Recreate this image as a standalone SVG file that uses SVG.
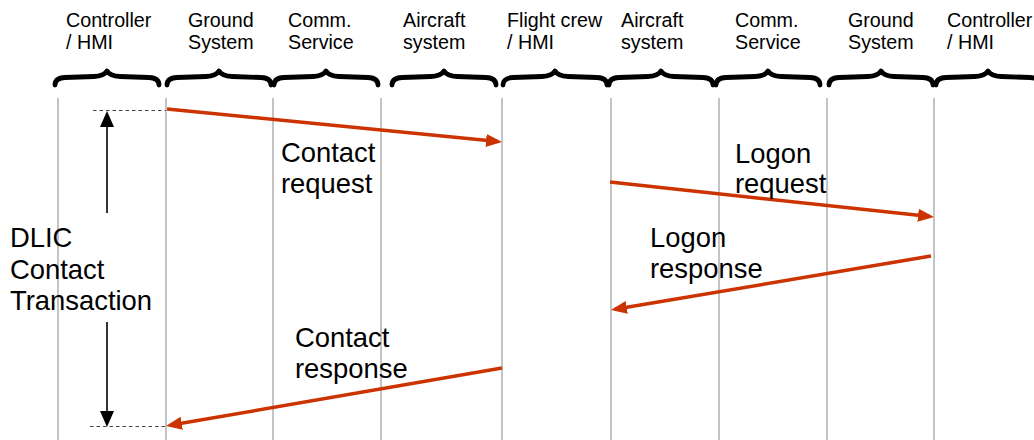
<svg xmlns="http://www.w3.org/2000/svg" width="1034" height="440" viewBox="0 0 1034 440">
<style>
.hdr{font-family:"Liberation Sans",Arial,sans-serif;font-size:19.7px;fill:#000}
.lbl{font-family:"Liberation Sans",Arial,sans-serif;font-size:27.4px;fill:#000}
.life{stroke:#c4c4c4;stroke-width:2}
.brace{fill:none;stroke:#000;stroke-width:4.8;stroke-linejoin:round;stroke-linecap:round}
.msg{stroke:#cc3300;stroke-width:3.5;fill:none}
.dash{stroke:#444;stroke-width:1.2;stroke-dasharray:3.5,3}
.span{stroke:#000;stroke-width:1.6}
</style>
<defs>
<marker id="red" markerUnits="userSpaceOnUse" markerWidth="18" markerHeight="14" refX="12" refY="7" orient="auto">
<path d="M0,0.5 L16,7 L0,13.5 z" fill="#cc3300"/>
</marker>
<marker id="blk" markerUnits="userSpaceOnUse" markerWidth="16" markerHeight="16" refX="14" refY="7.5" orient="auto">
<path d="M0,0.5 L16,7.5 L0,14.5 z" fill="#000"/>
</marker>
<path id="br" d="M1,85 Q1,78 11,77.5 L40,76.5 Q50,76 53,71 Q56,76 66,76.5 L95,77.5 Q105,78 105,85"/>
</defs>

<g id="lifelines">
<line class="life" x1="58" y1="98" x2="58" y2="440"/>
<line class="life" x1="166" y1="98" x2="166" y2="440"/>
<line class="life" x1="273" y1="98" x2="273" y2="440"/>
<line class="life" x1="381" y1="98" x2="381" y2="440"/>
<line class="life" x1="502" y1="98" x2="502" y2="440"/>
<line class="life" x1="611" y1="98" x2="611" y2="440"/>
<line class="life" x1="719" y1="98" x2="719" y2="440"/>
<line class="life" x1="827" y1="98" x2="827" y2="440"/>
<line class="life" x1="934" y1="98" x2="934" y2="440"/>
</g>

<g id="n1"><text class="hdr" x="66" y="27">Controller</text><text class="hdr" x="66" y="49">/ HMI</text><use href="#br" class="brace" x="54"/></g>
<g id="n2"><text class="hdr" x="188" y="27">Ground</text><text class="hdr" x="188" y="49">System</text><use href="#br" class="brace" x="166"/></g>
<g id="n3"><text class="hdr" x="288" y="27">Comm.</text><text class="hdr" x="288" y="49">Service</text><use href="#br" class="brace" x="273"/></g>
<g id="n4"><text class="hdr" x="403" y="27">Aircraft</text><text class="hdr" x="403" y="49">system</text><use href="#br" class="brace" x="391"/></g>
<g id="n5"><text class="hdr" x="507" y="27">Flight crew</text><text class="hdr" x="507" y="49">/ HMI</text><use href="#br" class="brace" x="502"/></g>
<g id="n6"><text class="hdr" x="621" y="27">Aircraft</text><text class="hdr" x="621" y="49">system</text><use href="#br" class="brace" x="608"/></g>
<g id="n7"><text class="hdr" x="735" y="27">Comm.</text><text class="hdr" x="735" y="49">Service</text><use href="#br" class="brace" x="715"/></g>
<g id="n8"><text class="hdr" x="848" y="27">Ground</text><text class="hdr" x="848" y="49">System</text><use href="#br" class="brace" x="828"/></g>
<g id="n9"><text class="hdr" x="947" y="27">Controller</text><text class="hdr" x="947" y="49">/ HMI</text><use href="#br" class="brace" x="935"/></g>

<g id="connectors">
<line class="msg" x1="167" y1="109" x2="498" y2="141.6" marker-end="url(#red)"/>
<line class="msg" x1="610" y1="182" x2="930" y2="216.6" marker-end="url(#red)"/>
<line class="msg" x1="931" y1="256" x2="614.9" y2="309.3" marker-end="url(#red)"/>
<line class="msg" x1="502" y1="368" x2="169.9" y2="425.3" marker-end="url(#red)"/>
<line class="dash" x1="93" y1="110.5" x2="166" y2="110.5"/>
<line class="dash" x1="90" y1="426.5" x2="166" y2="426.5"/>
<line class="span" x1="107" y1="213" x2="107" y2="113" marker-end="url(#blk)"/>
<line class="span" x1="107" y1="322" x2="107" y2="425" marker-end="url(#blk)"/>
</g>

<g id="labels">
<text class="lbl" x="281" y="162">Contact</text><text class="lbl" x="281" y="193">request</text>
<text class="lbl" x="735" y="163">Logon</text><text class="lbl" x="735" y="193">request</text>
<text class="lbl" x="650" y="247">Logon</text><text class="lbl" x="650" y="278">response</text>
<text class="lbl" x="295" y="347">Contact</text><text class="lbl" x="295" y="378">response</text>
<text class="lbl" x="10" y="247">DLIC</text><text class="lbl" x="10" y="279">Contact</text><text class="lbl" x="10" y="310">Transaction</text>
</g>
</svg>
